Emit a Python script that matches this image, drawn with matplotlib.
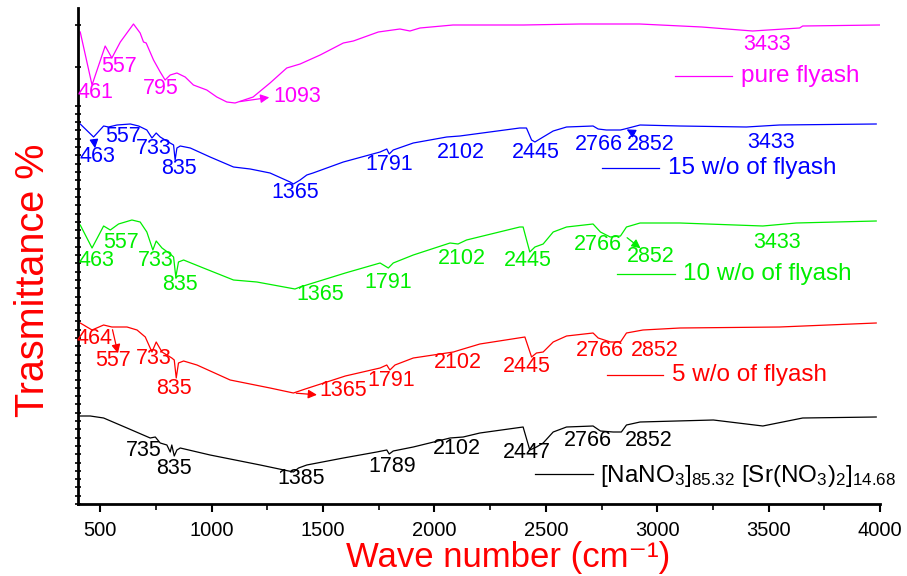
import numpy as np
import matplotlib
matplotlib.use("Agg")
import matplotlib.pyplot as plt
from matplotlib.ticker import FixedLocator, MultipleLocator

plt.rcParams['font.family'] = ['Liberation Sans', 'DejaVu Sans']
plt.rcParams['mathtext.default'] = 'regular'

# FTIR spectra, offset transmittance (arbitrary units)
wn_pure = [410, 463, 522, 552, 590, 649, 679, 694, 706, 739, 769, 791, 814, 844, 881, 918, 978, 1023, 1068, 1105,
           1186, 1262, 1337, 1397, 1487, 1591, 1636, 1748, 1845, 1890, 1935, 2083, 2400, 2652, 2921, 3200, 3428,
           3639, 3653, 3998]
t_pure = [472, 419, 458, 446, 462, 480, 471, 462, 461, 444, 432, 424, 429, 431, 427, 419, 414, 407, 402, 401,
          407, 421, 436, 440, 449, 461, 463, 472, 475, 473, 476, 479, 479, 480, 480, 477, 473, 476, 478, 479]

wn_15 = [410, 470, 515, 537, 575, 635, 672, 709, 732, 751, 769, 806, 829, 836, 844, 859, 904, 993, 1098, 1173,
         1262, 1352, 1367, 1397, 1427, 1455, 1591, 1756, 1786, 1797, 1815, 1905, 2055, 2114, 2383, 2413, 2436,
         2451, 2488, 2533, 2593, 2712, 2735, 2772, 2835, 2854, 2923, 3102, 3400, 3549, 3983]
t_15 = [380, 367, 378, 377, 379, 380, 378, 374, 366, 371, 367, 362, 359, 344, 356, 358, 356, 347, 337, 335,
        331, 322, 320, 324, 329, 331, 342, 352, 355, 350, 354, 361, 367, 368, 376, 376, 364, 362, 367, 373,
        377, 378, 375, 374, 374, 375, 379, 378, 377, 379, 380]

wn_10 = [410, 463, 515, 545, 582, 642, 679, 709, 736, 751, 777, 814, 829, 839, 851, 874, 963, 1098, 1203, 1374,
         1397, 1600, 1756, 1793, 1815, 1905, 2070, 2106, 2144, 2383, 2398, 2428, 2451, 2488, 2533, 2593, 2712,
         2745, 2789, 2835, 2862, 2923, 3102, 3474, 3624, 3983]
t_10 = [279, 256, 278, 274, 280, 284, 282, 272, 254, 263, 256, 250, 247, 227, 242, 244, 236, 224, 222, 215,
        217, 231, 241, 236, 241, 249, 261, 260, 264, 277, 277, 252, 257, 260, 272, 277, 280, 272, 267, 268,
        277, 281, 281, 278, 281, 283]

wn_5 = [410, 463, 515, 552, 620, 665, 702, 732, 751, 777, 821, 832, 841, 851, 874, 934, 1083, 1262, 1367, 1420,
        1600, 1756, 1786, 1800, 1823, 1905, 2085, 2114, 2204, 2406, 2436, 2458, 2488, 2533, 2593, 2712, 2735,
        2790, 2835, 2862, 2936, 3102, 3549, 3983]
t_5 = [181, 174, 179, 177, 177, 174, 167, 152, 162, 152, 146, 144, 126, 141, 143, 139, 124, 116, 111, 115,
       128, 136, 139, 134, 139, 146, 152, 154, 160, 167, 147, 151, 152, 162, 168, 171, 166, 162, 162, 171,
       174, 176, 177, 181]

wn_salt = [410, 455, 515, 620, 724, 747, 769, 799, 814, 821, 832, 844, 859, 993, 1218, 1367, 1390, 1427, 1591, 1741,
           1786, 1797, 1815, 1905, 2070, 2129, 2204, 2398, 2428, 2458, 2488, 2533, 2593, 2712, 2745, 2802, 2839,
           2862, 2923, 3252, 3474, 3653, 3983]
t_salt = [88, 88, 86, 76, 66, 67, 61, 59, 52, 59, 48, 54, 56, 49, 39, 32, 36, 39, 46, 52,
          54, 50, 53, 57, 66, 67, 71, 77, 54, 57, 61, 72, 77, 78, 73, 72, 72, 79, 82, 84,
          78, 86, 87]

names = ['pure flyash', '15 w/o of flyash', '10 w/o of flyash', '5 w/o of flyash',
         r'[NaNO$_3$]$_{85.32}$ [Sr(NO$_3$)$_2$]$_{14.68}$']
colors = ['#ff00ff', '#0000ff', '#00ee00', '#ff0000', '#000000']

# peak labels: (text, x, y)
peaks_pure = [('461', 478, 412), ('557', 585, 437), ('795', 773, 415), ('1093', 1383, 408), ('3433', 3491, 460)]
peaks_15 = [('463', 489, 347), ('557', 603, 367), ('733', 738, 356), ('835', 854, 336), ('1365', 1374, 311),
            ('1791', 1796, 339), ('2102', 2119, 352), ('2445', 2455, 352), ('2766', 2738, 360),
            ('2852', 2971, 360), ('3433', 3509, 361)]
peaks_10 = [('463', 482, 244), ('557', 594, 261), ('733', 747, 244), ('835', 859, 219), ('1365', 1487, 209),
            ('1791', 1792, 222), ('2102', 2123, 246), ('2445', 2419, 243), ('2766', 2733, 259),
            ('2852', 2971, 247), ('3433', 3540, 261)]
peaks_5 = [('464', 473, 166), ('557', 558, 143), ('733', 738, 145), ('835', 832, 116), ('1365', 1590, 113),
           ('1791', 1805, 124), ('2102', 2105, 141), ('2445', 2415, 137), ('2766', 2742, 154), ('2852', 2989, 154)]
peaks_salt = [('735', 693, 53), ('835', 832, 36), ('1385', 1401, 26), ('1789', 1810, 38), ('2102', 2101, 56),
              ('2447', 2415, 52), ('2766', 2688, 63), ('2852', 2962, 63)]

# arrows (color index, from, to)
arrows = [(0, (1114, 402), (1271, 407)), (1, (470, 367), (478, 353)), (1, (2908, 369), (2852, 376)),
          (2, (2855, 268), (2935, 254)), (3, (552, 177), (582, 148)), (3, (1367, 111), (1485, 109))]

# legend entries: line start/end x, y, text x
leg = [(3079, 3335, 428, 3374), (2752, 3007, 336, 3047), (2819, 3079, 230, 3114),
       (2774, 3025, 129, 3065), (2451, 2711, 30, 2742)]

fig = plt.figure(figsize=(9.07, 5.76), dpi=100)
ax = fig.add_axes([78 / 907, 72 / 576, 802 / 907, 496 / 576])

series = [(wn_pure, t_pure, peaks_pure), (wn_15, t_15, peaks_15), (wn_10, t_10, peaks_10),
          (wn_5, t_5, peaks_5), (wn_salt, t_salt, peaks_salt)]
for i, (w, t, pk) in enumerate(series):
    c = colors[i]
    ax.plot(w, t, color=c, lw=0.9)
    for txt, x, y in pk:
        ax.text(x, y, txt, color=c, fontsize=15.5, ha='center', va='center')
    x0, x1, ly, tx = leg[i]
    ax.plot([x0, x1], [ly, ly], color=c, lw=0.9)
    if i == 4:
        ax.text(tx, ly - 8, names[i], color=c, fontsize=17.5, ha='left', va='baseline')
    else:
        ax.text(tx, ly, names[i], color=c, fontsize=17.5, ha='left', va='center')

for ci, p0, p1 in arrows:
    ax.annotate('', xy=p1, xytext=p0,
                arrowprops=dict(arrowstyle='-|>', color=colors[ci], lw=0.9, mutation_scale=13))

ax.set_xlim(400, 4000)
ax.set_ylim(0, 496)
ax.spines['top'].set_visible(False)
ax.spines['right'].set_visible(False)
ax.spines['left'].set_linewidth(2)
ax.spines['bottom'].set_linewidth(2)

ax.xaxis.set_major_locator(MultipleLocator(500))
ax.xaxis.set_minor_locator(MultipleLocator(250))
ax.tick_params(axis='x', which='major', direction='out', length=6, width=1.5, labelsize=14.5, pad=6)
ax.tick_params(axis='x', which='minor', direction='out', length=4, width=1.2)

yt = [437, 479] + list(np.arange(0, 400, 8.3))
ax.yaxis.set_major_locator(FixedLocator(yt))
ax.tick_params(axis='y', which='major', direction='inout', length=5, width=1.2, labelleft=False)

fig.text(508 / 907, 9 / 576, 'Wave number (cm\u207b\u00b9)', color='red', fontsize=25,
         ha='center', va='baseline')
fig.text(33 / 907, (576 - 280) / 576, 'Trasmittance %', color='red', fontsize=28.5,
         ha='center', va='center', rotation=90)

fig.savefig('out.png', dpi=100)
